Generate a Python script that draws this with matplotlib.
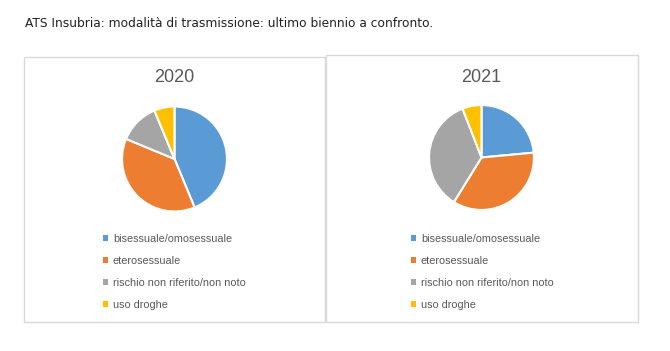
import matplotlib
matplotlib.use("Agg")
import matplotlib.pyplot as plt
from matplotlib.patches import Rectangle

# data (counts, shares per year)
categories = ["bisessuale/omosessuale", "eterosessuale",
              "rischio non riferito/non noto", "uso droghe"]
years = ["2020", "2021"]
values_2020 = [14, 12, 4, 2]
values_2021 = [4, 6, 6, 1]
colors = ["#5B9BD5", "#ED7D31", "#A5A5A5", "#FFC000"]

W, H = 670, 351
fig = plt.figure(figsize=(W / 100, H / 100), dpi=100)
fig.patch.set_facecolor("white")


def fx(px):
    return px / W


def fy(py):
    return 1 - py / H


fig.text(fx(25), fy(23.5), "ATS Insubria: modalità di trasmissione: ultimo biennio a confronto.",
         fontsize=8.85, color="#222222", family="DejaVu Sans", va="center", ha="left")

# panel geometry in pixels
panels = [
    dict(left=24, right=325, top=57, cx=174.5, cy=159, leg_x=102.5, year=years[0], vals=values_2020),
    dict(left=325.5, right=637.5, top=55, cx=481.5, cy=157.5, leg_x=410.5, year=years[1], vals=values_2021),
]
bottom = 322
r = 52.5

for p in panels:
    fig.patches.append(Rectangle((fx(p["left"]), fy(bottom)),
                                 fx(p["right"] - p["left"]), (bottom - p["top"]) / H,
                                 transform=fig.transFigure, fill=False,
                                 edgecolor="#d9d9d9", linewidth=1.0))
    fig.text(fx(p["cx"]), fy(78), p["year"], fontsize=13, color="#595959",
             family="Liberation Sans", ha="center", va="center")

    ax = fig.add_axes([fx(p["cx"] - r - 1), fy(p["cy"] + r + 1),
                       fx(2 * r + 2), (2 * r + 2) / H])
    wedges, _ = ax.pie(p["vals"], colors=colors, startangle=90, counterclock=False,
                       wedgeprops=dict(edgecolor="white", linewidth=1.5))
    ax.set_xlim(-1.02, 1.02)
    ax.set_ylim(-1.02, 1.02)
    ax.set_aspect("equal")

    leg = fig.legend(wedges, categories, loc="upper left",
                     bbox_to_anchor=(fx(p["leg_x"]), fy(233.5)),
                     frameon=False, handlelength=0.5, handleheight=0.5,
                     handletextpad=0.45, labelspacing=1.12, borderpad=0, borderaxespad=0,
                     prop=dict(family="Liberation Sans", size=7.8))
    for t in leg.get_texts():
        t.set_color("#595959")
    for h in leg.legend_handles:
        h.set_edgecolor("none")

fig.savefig("out.png", dpi=100, facecolor="white")
